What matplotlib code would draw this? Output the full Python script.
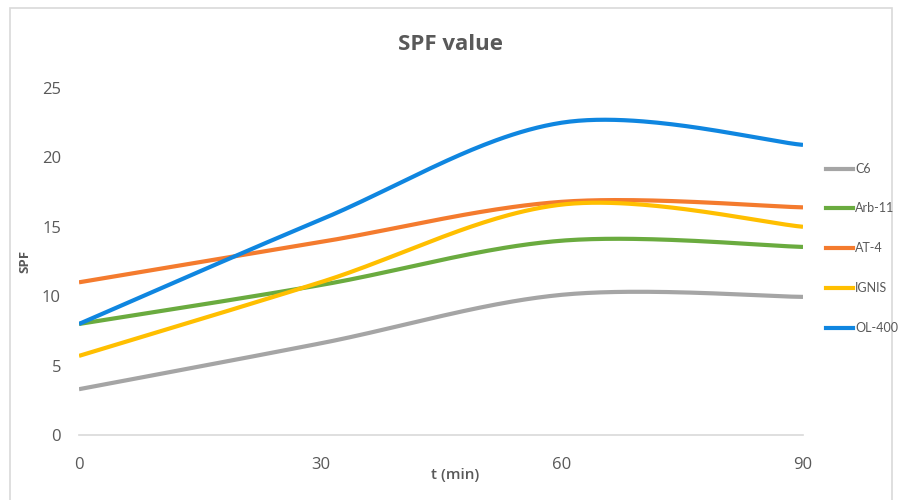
import numpy as np
import matplotlib
matplotlib.use("Agg")
import matplotlib.pyplot as plt
from matplotlib.lines import Line2D
from matplotlib.patches import Rectangle

# Measurement times (min) and SPF readings per sample
times = [0, 30, 60, 90]
series_names = ["C6", "Arb-11", "AT-4", "IGNIS", "OL-400"]
c6 = [3.3, 6.6, 10.1, 9.95]
arb11 = [8.0, 10.8, 14.0, 13.55]
at4 = [11.0, 13.9, 16.8, 16.4]
ignis = [5.7, 11.0, 16.6, 15.0]
ol400 = [8.0, 15.5, 22.5, 20.9]
colors = ["#A5A5A5", "#6AAB3F", "#F47B2E", "#FFBF00", "#0F86E0"]
y_ticks = [0, 5, 10, 15, 20, 25]

text_color = "#595959"
font = ["Open Sans", "DejaVu Sans"]
legend_font = ["Lato", "DejaVu Sans"]


def smooth(xs, ys, n=60):
    """Catmull-Rom style cubic Bezier smoothing through the given points."""
    px = np.asarray(xs, float)
    py = np.asarray(ys, float)
    m = len(px)
    out_x, out_y = [], []
    t = np.linspace(0, 1, n)
    for i in range(m - 1):
        i0 = max(i - 1, 0)
        i3 = min(i + 2, m - 1)
        p0 = np.array([px[i], py[i]])
        p3 = np.array([px[i + 1], py[i + 1]])
        c1 = p0 + (np.array([px[i + 1], py[i + 1]]) - np.array([px[i0], py[i0]])) / 6
        c2 = p3 - (np.array([px[i3], py[i3]]) - np.array([px[i], py[i]])) / 6
        b = ((1 - t) ** 3)[:, None] * p0 + (3 * (1 - t) ** 2 * t)[:, None] * c1 \
            + (3 * (1 - t) * t ** 2)[:, None] * c2 + (t ** 3)[:, None] * p3
        out_x.extend(b[:, 0])
        out_y.extend(b[:, 1])
    return np.array(out_x), np.array(out_y)


fig = plt.figure(figsize=(9.01, 5.0), dpi=100)
ax = fig.add_axes([79 / 901, 65 / 500, 724 / 901, 347 / 500])

for name, vals, col in zip(series_names, [c6, arb11, at4, ignis, ol400], colors):
    sx, sy = smooth(times, vals)
    ax.plot(sx, sy, color=col, lw=3.0, solid_capstyle="butt", label=name)

ax.set_xlim(times[0], times[-1])
ax.set_ylim(0, 25)
ax.set_xticks(times)
ax.set_yticks(y_ticks)
ax.tick_params(length=0, labelsize=12, colors=text_color)
ax.tick_params(axis="x", pad=16)
ax.tick_params(axis="y", pad=13)
for lab in ax.get_xticklabels() + ax.get_yticklabels():
    lab.set_family(font)
for side in ["top", "right", "left"]:
    ax.spines[side].set_visible(False)
ax.spines["bottom"].set_color("#D9D9D9")
ax.spines["bottom"].set_linewidth(1.2)

ax.set_xlabel("t (min)", fontsize=11, color=text_color, family=font, fontweight="semibold")
ax.xaxis.set_label_coords(0.52, -0.095)
ax.set_ylabel("SPF", fontsize=9.5, color=text_color, family=font, fontweight="bold")
ax.yaxis.set_label_coords(-0.066, 0.5)

fig.text(450 / 901, 1 - 45 / 500, "SPF value", ha="center", va="center",
         fontsize=16, fontweight="bold", color=text_color, family=font)

# Legend drawn on the right side
leg_y = [169, 208, 248, 288, 328]
for name, col, yp in zip(series_names, colors, leg_y):
    yf = 1 - yp / 500
    fig.add_artist(Line2D([826 / 901, 853 / 901], [yf, yf], color=col, lw=3.0,
                          transform=fig.transFigure))
    fig.text(855 / 901, yf, name, ha="left", va="center", fontsize=9,
             color=text_color, family=legend_font)

# Outer chart border
fig.add_artist(Rectangle((10 / 901, -0.02), 882 / 901, 1 - 8 / 500 + 0.02,
                         transform=fig.transFigure, fill=False,
                         edgecolor="#D9D9D9", lw=1.2))

fig.savefig("out.png", dpi=100)
